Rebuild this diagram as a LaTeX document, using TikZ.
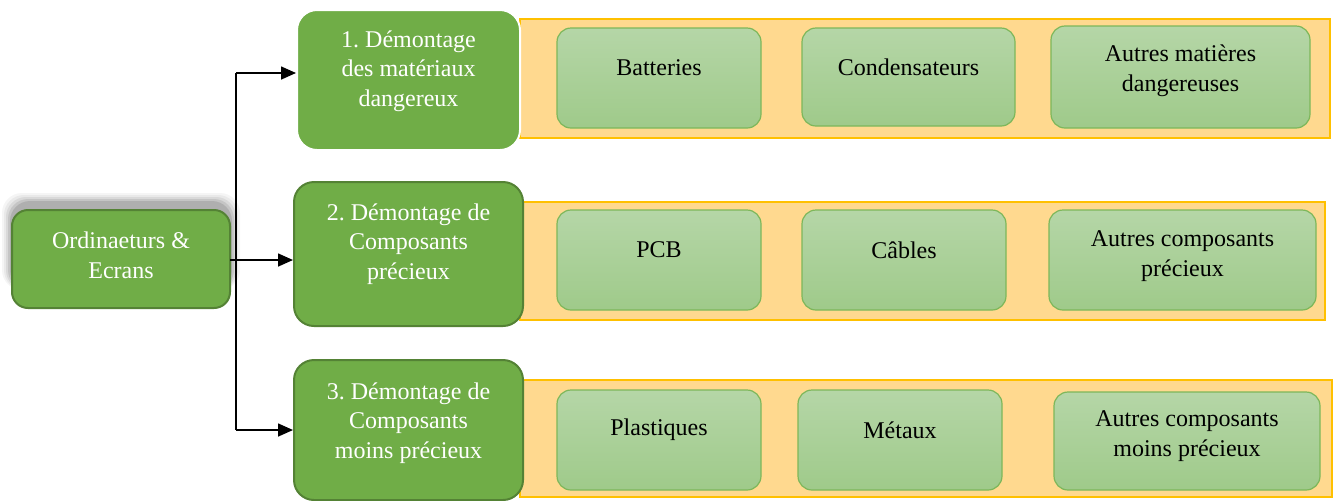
\documentclass[tikz,border=0pt]{standalone}
\usepackage{fontspec}
\setmainfont{Liberation Serif}
\usetikzlibrary{arrows.meta}
\frenchspacing
\definecolor{mgreen}{HTML}{70AD47}
\definecolor{dgreen}{HTML}{548235}
\definecolor{ltop}{HTML}{B5D6A7}
\definecolor{lbot}{HTML}{9FCA8A}
\definecolor{lborder}{HTML}{7DB75A}
\definecolor{band}{HTML}{FFD98F}
\definecolor{bandb}{HTML}{FFC000}
\tikzset{
  mainbox/.style={draw=dgreen, line width=1pt, fill=mgreen, rounded corners=10pt},
  rootbox/.style={draw=dgreen, line width=1pt, fill=mgreen, rounded corners=8pt},
  bandbox/.style={draw=bandb, line width=0.6pt, fill=band},
  subbox/.style={draw=lborder, line width=0.6pt, top color=ltop, bottom color=lbot, rounded corners=7pt},
  wtext/.style={text=white, align=center, font=\fontsize{12}{14.8}\selectfont\frenchspacing, inner sep=0pt},
  btext/.style={text=black, align=center, font=\fontsize{12}{14.8}\selectfont\frenchspacing, inner sep=0pt},
  arr/.style={line width=0.8pt, -{Triangle[length=7.5pt,width=6.5pt]}},
  conn/.style={line width=0.8pt}
}
\begin{document}
\begin{tikzpicture}[x=0.5pt,y=-0.5pt]
\useasboundingbox (0,0) rectangle (1337,500);
% shadow of root
\foreach \s/\o in {10/0.04,8/0.05,6/0.07,4/0.09,2/0.11}{
  \fill[black, opacity=\o, rounded corners=10pt] (12-\s,203-\s) rectangle (230+\s,290);
}
% bands
\node[bandbox, minimum width=405pt, minimum height=59.5pt] (band1) at (925,78.5) {};
\node[bandbox, minimum width=402.5pt, minimum height=59pt] (band2) at (922.5,261) {};
\node[bandbox, minimum width=406pt, minimum height=58.5pt] (band3) at (926,438.5) {};
% root
\node[rootbox, minimum width=109pt, minimum height=49pt] (root) at (121,259) {};
\node[wtext] (roott) at (121,255) {Ordinaeturs \&\\Ecrans};
% main boxes
\node[mainbox, draw=white, minimum width=111.5pt, minimum height=70pt] (box1) at (408.5,80) {};
\node[wtext] (box1t) at (408.5,71) {1. Démontage\\des matériaux\\dangereux};
\node[mainbox, minimum width=114.5pt, minimum height=72pt] (box2) at (408.5,254) {};
\node[wtext] (box2t) at (408.5,244) {2. Démontage de\\Composants\\précieux};
\node[mainbox, minimum width=114.5pt, minimum height=70pt] (box3) at (408.5,430) {};
\node[wtext] (box3t) at (408.5,423) {3. Démontage de\\Composants\\moins précieux};
% sub boxes row 1
\node[subbox, minimum width=102pt, minimum height=50pt] (b1a) at (659,78) {};
\node[btext] (b1at) at (659,68) {Batteries};
\node[subbox, minimum width=106.5pt, minimum height=49pt] (b1b) at (908.5,77) {};
\node[btext] (b1bt) at (908.5,67) {Condensateurs};
\node[subbox, minimum width=129.5pt, minimum height=51pt] (b1c) at (1180.5,77) {};
\node[btext] (b1ct) at (1180.5,71) {Autres matières\\dangereuses};
% row 2
\node[subbox, minimum width=102pt, minimum height=50pt] (b2a) at (659,260) {};
\node[btext] (b2at) at (659,250) {PCB};
\node[subbox, minimum width=102pt, minimum height=50pt] (b2b) at (904,260) {};
\node[btext] (b2bt) at (904,250) {Câbles};
\node[subbox, minimum width=133.5pt, minimum height=50pt] (b2c) at (1182.5,260) {};
\node[btext] (b2ct) at (1182.5,256) {Autres composants\\précieux};
% row 3
\node[subbox, minimum width=102pt, minimum height=50pt] (b3a) at (659,440) {};
\node[btext] (b3at) at (659,430) {Plastiques};
\node[subbox, minimum width=102pt, minimum height=50pt] (b3b) at (900,440) {};
\node[btext] (b3bt) at (900,430) {Métaux};
\node[subbox, minimum width=133pt, minimum height=49pt] (b3c) at (1187,441) {};
\node[btext] (b3ct) at (1187,436) {Autres composants\\moins précieux};
% connectors
\coordinate (jtop) at (236,73);
\coordinate (jbot) at (236,430);
\coordinate (rootout) at (230,260);
\draw[conn] (jtop) -- (jbot);
\draw[arr] (jtop) -- (jtop -| box1.west);
\draw[arr] (rootout) -- (rootout -| box2.west);
\draw[arr] (jbot) -- (jbot -| box3.west);
\end{tikzpicture}
\end{document}
